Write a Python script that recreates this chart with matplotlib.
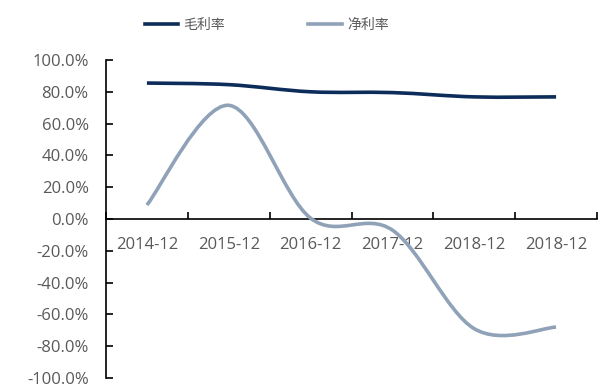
import numpy as np
import matplotlib.pyplot as plt
from matplotlib.path import Path
from matplotlib.patches import PathPatch
from matplotlib.lines import Line2D

plt.rcParams['font.family'] = ['Open Sans', 'Noto Sans CJK SC', 'DejaVu Sans']

# data (percent)
periods = ['2014-12', '2015-12', '2016-12', '2017-12', '2018-12', '2018-12']
gross_margin = [85.5, 84.5, 80.0, 79.5, 76.8, 76.8]
net_margin = [8.8, 71.5, 0.5, -7.0, -69.0, -68.0]

gross_color = '#0c2c5a'
net_color = '#8fa2b7'
text_color = '#595959'


def smooth_path(values):
    # Excel-style smoothed line as cubic bezier segments
    pts = np.column_stack([np.arange(len(values), dtype=float), values])
    n = len(pts)
    verts = [pts[0]]
    codes = [Path.MOVETO]
    for i in range(n - 1):
        p0 = pts[i - 1] if i > 0 else pts[i]
        p3 = pts[i + 2] if i + 2 < n else pts[i + 1]
        c1 = pts[i] + (pts[i + 1] - p0) / 6
        c2 = pts[i + 1] - (p3 - pts[i]) / 6
        verts += [c1, c2, pts[i + 1]]
        codes += [Path.CURVE4] * 3
    return Path(verts, codes)


fig = plt.figure(figsize=(6.09, 3.88), dpi=100)
ax = fig.add_axes([106 / 609, 1 - 378 / 388, (597 - 106) / 609, (378 - 60) / 388])

for vals, col in [(gross_margin, gross_color), (net_margin, net_color)]:
    ax.add_patch(PathPatch(smooth_path(vals), fill=False, edgecolor=col,
                           lw=2.6, capstyle='butt', zorder=3, clip_on=False))

ax.set_xlim(-0.5, len(periods) - 0.5)
ax.set_ylim(-100, 100)
ax.set_yticks(np.arange(-100, 101, 20))
ax.set_yticklabels([f'{v:.1f}%' for v in np.arange(-100, 101, 20)])

ax.set_xticks(np.arange(-0.5, len(periods), 1.0))
ax.set_xticklabels([])
ax.set_xticks(np.arange(len(periods)), minor=True)
ax.set_xticklabels(periods, minor=True)

ax.spines['top'].set_visible(False)
ax.spines['right'].set_visible(False)
ax.spines['bottom'].set_position(('data', 0))
for s in ['left', 'bottom']:
    ax.spines[s].set_color('black')
    ax.spines[s].set_linewidth(1.2)

ax.tick_params(axis='y', direction='in', length=5, width=1.2, pad=12.5,
               labelsize=12, labelcolor=text_color)
ax.tick_params(axis='x', which='major', direction='in', length=5, width=1.2)
ax.tick_params(axis='x', which='minor', length=0, pad=13,
               labelsize=12, labelcolor=text_color)

handles = [Line2D([], [], color=gross_color, lw=2.6),
           Line2D([], [], color=net_color, lw=2.6)]
fig.legend(handles, ['毛利率', '净利率'], loc='center', ncol=2,
           bbox_to_anchor=(0.438, 0.935), frameon=False, handlelength=2.4,
           handletextpad=0.4, columnspacing=6.0,
           prop={'family': ['Noto Sans CJK SC', 'DejaVu Sans'], 'size': 10},
           labelcolor=text_color)

fig.savefig('out.png', dpi=100)
